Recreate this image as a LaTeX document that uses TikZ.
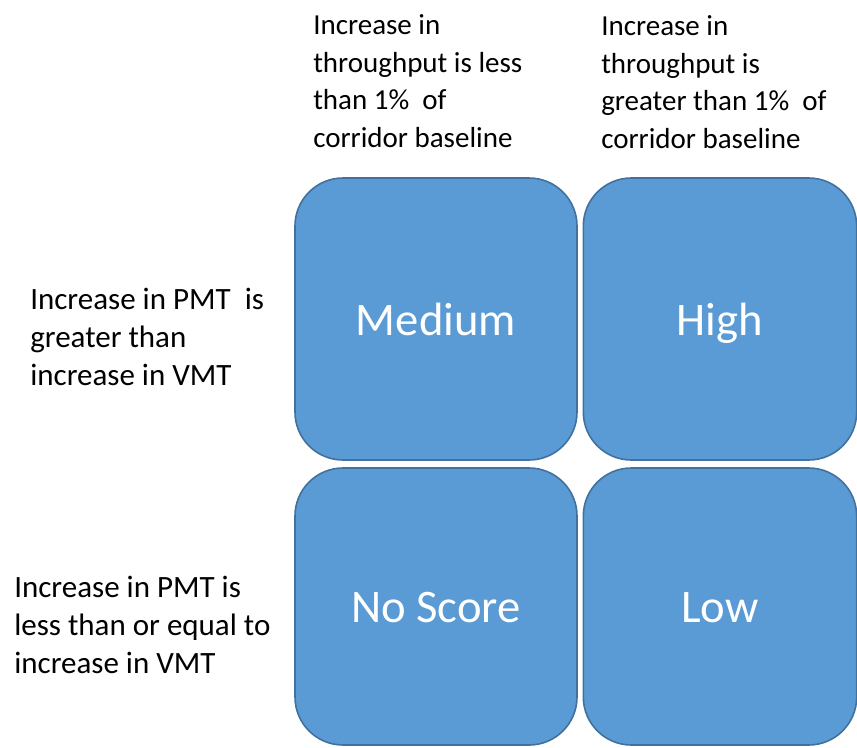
\documentclass[tikz,border=0pt]{standalone}
\usepackage{fontspec}
\setmainfont{Carlito}
\definecolor{cellfill}{RGB}{91, 155, 213}
\definecolor{celledge}{RGB}{65, 113, 156}
\usetikzlibrary{calc}
\tikzset{
  cell/.style={draw=celledge, fill=cellfill, line width=1.2pt, rounded corners=36pt,
    text=white, font=\fontsize{35}{42}\selectfont, inner sep=0pt,
    text height=24pt, text depth=0pt},
  colhead/.style={anchor=base west, align=left, inner sep=0pt,
    font=\fontsize{21.75}{28.1}\selectfont},
  rowhead/.style={anchor=base west, align=left, inner sep=0pt,
    font=\fontsize{23.25}{28.5}\selectfont}
}

\begin{document}
\begin{tikzpicture}[x=0.75pt, y=-0.75pt]
  \useasboundingbox (0,0) rectangle (857,747);
  % matrix cells
  \node[cell, minimum width=211.5pt, minimum height=211.5pt] (cellmed) at (436,319) {Medium};
  \node[cell, minimum width=205pt, minimum height=211.5pt] (cellhigh) at (720,319) {High};
  \node[cell, minimum width=211.5pt, minimum height=207.75pt] (cellnone) at (436,606.5) {No Score};
  \node[cell, minimum width=205pt, minimum height=207.75pt] (celllow) at (720,606.5) {Low};
  % column headings (anchored at last baseline)
  \node[colhead] (colless) at (313,147) {Increase in\\throughput is less\\than 1\%\ \ of\\corridor baseline};
  \node[colhead] (colmore) at (601,148) {Increase in\\throughput is\\greater than 1\%\ \ of\\corridor baseline};
  % row headings
  \node[rowhead] (rowmore) at (30,385) {Increase in PMT\ \ is\\greater than\\increase in VMT};
  \node[rowhead] (rowless) at (14,673) {Increase in PMT is\\less than or equal to\\increase in VMT};
\end{tikzpicture}
\end{document}
